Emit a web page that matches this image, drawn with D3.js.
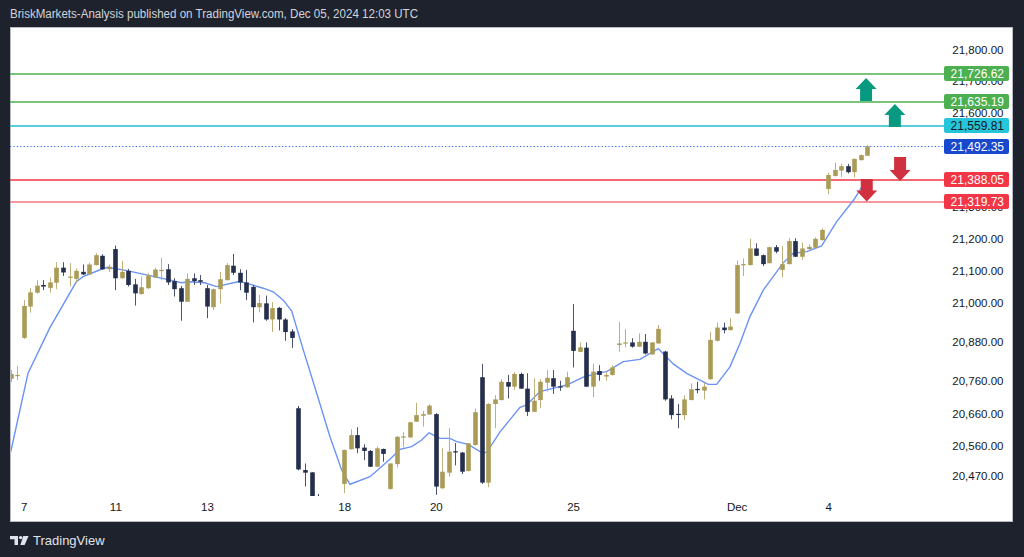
<!DOCTYPE html>
<html><head><meta charset="utf-8">
<script src="https://cdn.jsdelivr.net/npm/d3@7"></script>
<style>html,body{margin:0;padding:0;background:#1e222d;} svg{display:block;}</style>
</head><body><svg id="c" width="1024" height="557"></svg>
<script>
// ---- data ----
const title = "BriskMarkets-Analysis published on TradingView.com, Dec 05, 2024 12:03 UTC";
const opens = [20766,20775,20892,20989,21032,21056,21047,21063,21110,21079,21075,21097,21089,21118,21147,21105,21168,21077,21100,21058,
21028,21046,21079,21101,21105,21068,21046,21004,21077,21071,21046,20987,21043,21071,21116,21094,21064,21050,20987,20999,
20949,20985,20949,20912,20676,20488,20481,20405,20362,20371,20382,20446,20551,20594,20556,20546,20498,20552,20431,20506,
20587,20587,20635,20653,20657,20658,20433,20480,20545,20541,20485,20564,20771,20450,20689,20701,20756,20742,20781,20736,
20665,20701,20754,20768,20743,20740,20914,20849,20862,20742,20790,20773,20778,20870,20876,20878,20865,20880,20841,20875,
20850,20706,20659,20655,20701,20735,20730,20765,20883,20924,20916,20968,21120,21118,21170,21149,21124,21174,21103,21121,
21193,21144,21168,21172,21196,21357,21398,21415,21429,21410,21448,21462];
const highs = [20793,20805,21009,21046,21071,21071,21079,21127,21127,21124,21108,21120,21125,21155,21152,21120,21179,21131,21106,21075,
21082,21093,21110,21141,21121,21077,21053,21092,21092,21087,21056,21045,21097,21124,21153,21105,21103,21056,21025,21023,
21003,20988,20953,20919,20683,20508,20482,20416,20390,20398,20405,20550,20612,20618,20566,20549,20560,20553,20509,20591,
20603,20635,20693,20668,20688,20661,20554,20615,20570,20543,20570,20675,20812,20692,20716,20765,20778,20787,20785,20783,
20768,20765,20793,20793,20760,20788,20997,20878,20878,20812,20808,20788,20808,20942,20919,20891,20906,20904,20879,20932,
20852,20716,20689,20716,20752,20757,20754,20911,20939,20939,20953,21132,21139,21200,21186,21151,21175,21181,21178,21202,
21202,21189,21183,21205,21233,21408,21440,21437,21436,21453,21466,21496];
const lows = [20756,20762,20889,20970,21029,21040,21032,21043,21084,21051,21063,21087,21088,21117,21103,21097,21040,21075,21051,20992,
21026,21043,21078,21071,21056,21020,20945,21003,21056,21056,20953,20978,20999,21070,21087,21040,21009,20940,20971,20945,
20910,20915,20883,20861,20487,20438,20390,20330,20318,20340,20352,20418,20550,20539,20518,20497,20497,20513,20428,20496,
20557,20586,20634,20620,20656,20413,20431,20468,20502,20476,20484,20562,20446,20436,20615,20700,20706,20732,20735,20652,
20664,20676,20727,20720,20729,20739,20801,20848,20741,20709,20760,20760,20776,20849,20863,20862,20864,20841,20840,20874,
20699,20642,20615,20640,20700,20722,20703,20763,20881,20906,20915,20966,21084,21117,21146,21115,21123,21155,21080,21120,
21143,21134,21166,21171,21195,21340,21396,21395,21406,21394,21447,21461];
const closes = [20781,20778,20991,21033,21054,21051,21064,21110,21095,21082,21100,21089,21120,21149,21105,21113,21077,21097,21056,21030,
21049,21085,21104,21103,21064,21043,21004,21075,21068,21066,20989,21043,21074,21118,21094,21064,21032,20987,21000,20949,
20984,20949,20910,20892,20490,20480,20405,20362,20371,20382,20398,20549,20594,20554,20546,20498,20554,20537,20508,20589,
20590,20633,20655,20658,20684,20438,20483,20544,20543,20483,20569,20664,20450,20689,20703,20757,20742,20781,20736,20665,
20699,20757,20769,20742,20741,20771,20852,20863,20742,20788,20778,20778,20801,20875,20878,20865,20880,20844,20878,20920,
20703,20655,20657,20703,20734,20733,20742,20886,20924,20916,20927,21118,21121,21170,21147,21121,21174,21160,21121,21193,
21144,21170,21175,21200,21228,21401,21417,21429,21410,21452,21464,21492.35];

const maIdx = [0,2.65,5.96,10.03,11.06,13.85,14.88,17.94,22.02,26.09,27.37,29.66,31.44,34.76,35.57,38.62,40.15,41.68,42.97,44.74,
46.79,48.82,50.61,51.88,54.94,57.99,59.53,61.31,62.84,63.96,65.64,67.17,68.2,69.97,71.76,72.78,74.82,77.88,78.9,80.93,
83.99,85.02,87.55,90.11,91.13,93.67,96.22,99.02,101.31,103.36,106.67,107.95,109.98,111.51,113.04,115.08,118.13,119.66,121.71,124,
126.3,128.9,130.9];
const maVal = [20543,20783,20922,21066,21082,21105,21111,21100,21082,21063,21066,21063,21051,21066,21064,21046,21035,21009,20975,20855,
20722,20589,20488,20445,20468,20521,20551,20559,20579,20601,20584,20584,20574,20566,20544,20541,20604,20679,20686,20727,
20742,20747,20771,20785,20788,20819,20826,20859,20812,20783,20749,20749,20803,20875,20958,21040,21125,21155,21160,21178,
21254,21322,21388];

const xTickIdx = [2,16,30,51,65,86,111,125];
const xTickLabels = ["7","11","13","18","20","25","Dec","4"];
// 21,500 and 21,400 sit fully behind the level labels in the reference, so they are not drawn
const yTicks = [21800,21700,21600,21300,21200,21100,21000,20880,20760,20660,20560,20470];

const levelValues = [21726.62,21635.19,21559.81,21492.35,21388.05,21319.73];
const levelLineColors = ["#4caf50","#4caf50","#22bcd2","#2962ff","#f23645","#f7747e"];
const levelBoxColors = ["#4caf50","#4caf50","#26c6da","#1848cc","#f23645","#f23645"];
const levelTextColors = ["#ffffff","#ffffff","#131722","#ffffff","#ffffff","#ffffff"];
const levelDotted = [false,false,false,true,false,false];

const arrowIdx = [130.8,135.2,136,130.9];
const arrowFrom = [21636,21553,21458,21388];
const arrowTo = [21710,21627,21382,21317];
const arrowColors = ["#089981","#089981","#d0303f","#d0303f"];

// ---- drawing ----
const svg = d3.select("#c");
const W = 1024, H = 557;
const font = "'Liberation Sans', Arial, sans-serif";
svg.append("rect").attr("width", W).attr("height", H).attr("fill", "#1e222d");
svg.append("text").attr("x", 10).attr("y", 18).attr("fill", "#d1d4dc")
  .attr("textLength", 408).attr("lengthAdjust", "spacingAndGlyphs")
  .style("font", "12px " + font).text(title);

svg.append("rect").attr("x", 10.5).attr("y", 27.5).attr("width", 1002).attr("height", 494)
  .attr("fill", "#ffffff").attr("stroke", "#b8bbc4");

const x = d3.scaleLinear().domain([0, 131]).range([10.7, 867.4]);
const y = d3.scaleLog().domain([20470, 21800]).range([476, 50]);

svg.append("defs").append("clipPath").attr("id", "plotclip").append("rect")
  .attr("x", 11).attr("y", 28).attr("width", 933).attr("height", 468);

// y axis
const yAxis = svg.append("g").attr("transform", "translate(1003.5,0)")
  .call(d3.axisRight(y).tickValues(yTicks).tickFormat(d3.format(",.2f")).tickSize(0).tickPadding(0));
yAxis.select(".domain").remove();
yAxis.selectAll("text").attr("text-anchor", "end").attr("x", 0).attr("fill", "#131722")
  .style("font", "11.5px " + font);

// x axis
const xAxis = svg.append("g").attr("transform", "translate(0,503)")
  .call(d3.axisBottom(x).tickValues(xTickIdx).tickFormat((d, i) => xTickLabels[i]).tickSize(0).tickPadding(0));
xAxis.select(".domain").remove();
xAxis.selectAll("text").attr("fill", "#131722").style("font", "11.5px " + font);

// level lines
const lv = svg.append("g").attr("class", "levels");
levelValues.forEach((v, i) => {
  const yy = Math.round(y(v)) + 0.5;
  const p = lv.append("path").attr("d", "M10," + (levelDotted[i] ? yy : yy + 0.5) + "H944")
    .style("fill", "none").style("stroke", levelLineColors[i])
    .style("stroke-width", levelDotted[i] ? "1px" : "1.5px");
  if (levelDotted[i]) p.style("stroke-dasharray", "1.2,2.2");
});

const plot = svg.append("g").attr("clip-path", "url(#plotclip)");

// moving average
const maLine = d3.line().x((d, i) => x(maIdx[i])).y(d => y(d));
plot.append("path").datum(maVal).attr("d", maLine).attr("fill", "none")
  .attr("stroke", "#6a93f5").attr("stroke-width", 1.4);

// candles
const idx = d3.range(opens.length);
const up = i => closes[i] >= opens[i];
const cg = plot.append("g");
cg.selectAll("line.w").data(idx).join("line").attr("class", "w")
  .attr("x1", i => Math.round(x(i)) + 0.5).attr("x2", i => Math.round(x(i)) + 0.5)
  .attr("y1", i => y(highs[i])).attr("y2", i => y(lows[i]))
  .attr("stroke", i => up(i) ? "#bdb07a" : "#4a5270").attr("stroke-width", 1);
cg.selectAll("rect.b").data(idx).join("rect").attr("class", "b")
  .attr("x", i => Math.round(x(i)) + 0.5 - 2.3).attr("width", 4.6)
  .attr("y", i => y(Math.max(opens[i], closes[i])))
  .attr("height", i => Math.max(1.2, Math.abs(y(opens[i]) - y(closes[i]))))
  .attr("fill", i => up(i) ? "#aa9c57" : "#252f4c");

// arrows
arrowIdx.forEach((ai, k) => {
  const cx = x(ai), y0 = y(arrowFrom[k]), y1 = y(arrowTo[k]);
  const dir = y1 < y0 ? -1 : 1; // -1: up
  const head = 11, hw = 10.5, sw = 6;
  const yh = y1 - dir * head;
  const pts = [[cx - sw, y0], [cx + sw, y0], [cx + sw, yh], [cx + hw, yh], [cx, y1], [cx - hw, yh], [cx - sw, yh]];
  svg.append("path").attr("d", d3.line()(pts) + "Z").attr("fill", arrowColors[k]);
});

// level labels
levelValues.forEach((v, i) => {
  const yy = Math.round(y(v)) + 0.5;
  svg.append("rect").attr("x", 944).attr("y", yy - 7.5).attr("width", 65).attr("height", 15)
    .attr("rx", 2).attr("fill", levelBoxColors[i]);
  svg.append("text").attr("x", 1004).attr("y", yy + 4.2).attr("text-anchor", "end")
    .attr("fill", levelTextColors[i]).style("font", "12px " + font).text(d3.format(",.2f")(v));
});

// TradingView logo
const lg = svg.append("g").attr("fill", "#e0e3eb");
lg.append("path").attr("d", "M10,536 H18 V545 H14.5 V539.2 H10 Z");
lg.append("circle").attr("cx", 20.6).attr("cy", 537.6).attr("r", 1.7);
lg.append("path").attr("d", "M23.2,536 H28.6 L24.6,545 H20.4 Z");
svg.append("text").attr("x", 33).attr("y", 545).attr("fill", "#e0e3eb")
  .style("font", "13px " + font).text("TradingView");
</script></body></html>
